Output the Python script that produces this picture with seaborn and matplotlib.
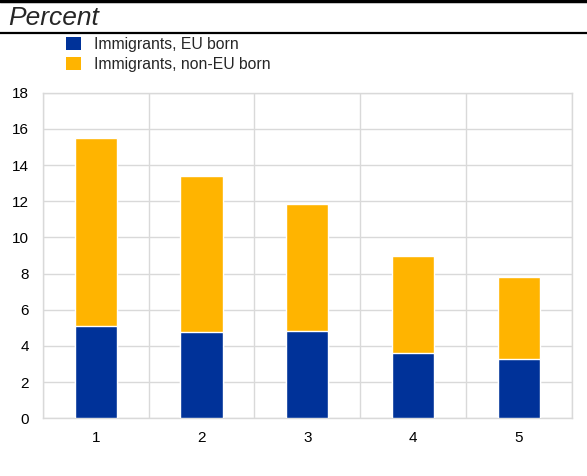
import pandas as pd
import matplotlib.pyplot as plt
import seaborn as sns
from matplotlib.lines import Line2D
from matplotlib.patches import Patch

# Chart data
categories = ["1", "2", "3", "4", "5"]
eu_born = [5.1, 4.77, 4.82, 3.61, 3.28]
total = [15.49, 13.37, 11.82, 8.95, 7.83]
legend_labels = ["Immigrants, EU born", "Immigrants, non-EU born"]
title = "Percent"
y_ticks = [0, 2, 4, 6, 8, 10, 12, 14, 16, 18]

BLUE = "#003299"
YELLOW = "#FFB400"
GRID = "#d9d9d9"

df = pd.DataFrame({"category": categories, "eu": eu_born, "total": total})

sns.set_style("white")
plt.rcParams["font.family"] = ["Liberation Sans", "DejaVu Sans"]

fig = plt.figure(figsize=(5.87, 4.76), dpi=100)
ax = fig.add_axes([43 / 587, 1 - 418.3 / 476, (571.7 - 43) / 587, (418.3 - 92.7) / 476])

# Stacked bars: total (non-EU on top) drawn first, EU part drawn over it
sns.barplot(data=df, x="category", y="total", color=YELLOW, width=0.4,
            saturation=1, ax=ax, zorder=3)
sns.barplot(data=df, x="category", y="eu", color=BLUE, width=0.4,
            saturation=1, ax=ax, zorder=3)

ax.set_xlim(-0.5, len(categories) - 0.5)
ax.set_ylim(0, 18)
ax.set_yticks(y_ticks)
ax.set_xlabel("")
ax.set_ylabel("")

# Vertical grid lines at the category boundaries
ax.set_xticks([i + 0.5 for i in range(-1, len(categories))], minor=True)
ax.grid(axis="x", which="minor", color=GRID, lw=1, zorder=0)
ax.grid(axis="y", which="major", color=GRID, lw=1, zorder=0)
ax.set_axisbelow(True)
for s in ax.spines.values():
    s.set_color(GRID)
    s.set_linewidth(1)

ax.tick_params(axis="both", which="both", length=0, labelsize=11, colors="black")
ax.tick_params(axis="x", pad=9)
ax.tick_params(axis="y", pad=10)

# Header: title between two rules
fig.add_artist(Line2D([0, 1], [1 - 1 / 476, 1 - 1 / 476], color="black", lw=2.5,
                      transform=fig.transFigure))
fig.add_artist(Line2D([0, 1], [1 - 33 / 476, 1 - 33 / 476], color="black", lw=1.6,
                      transform=fig.transFigure))
fig.text(8 / 587, 1 - 18 / 476, title, fontsize=19, style="italic", va="center", ha="left")

handles = [Patch(facecolor=BLUE, edgecolor="none"), Patch(facecolor=YELLOW, edgecolor="none")]
fig.legend(handles, legend_labels, loc="upper left", bbox_to_anchor=(66 / 587, 1 - 37 / 476),
           frameon=False, fontsize=11.3, handlelength=0.95, handleheight=0.85,
           handletextpad=0.85, labelspacing=0.3, borderpad=0, borderaxespad=0)

fig.savefig("out.png", dpi=100)
